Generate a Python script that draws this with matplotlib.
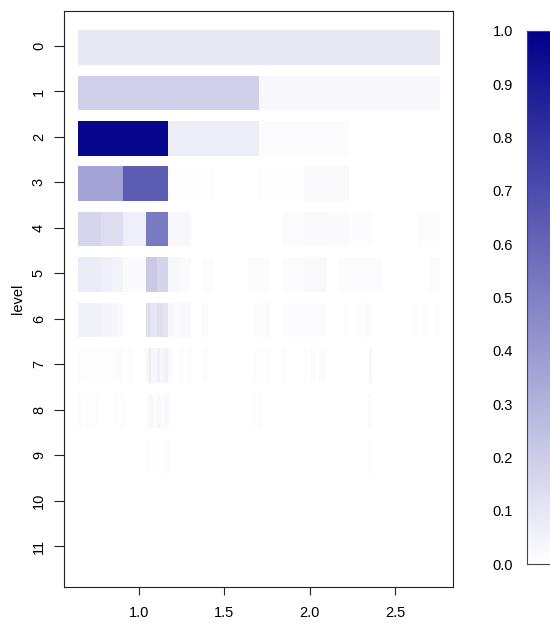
import matplotlib
matplotlib.use("Agg")
import matplotlib.pyplot as plt
import numpy as np
from matplotlib.colors import LinearSegmentedColormap, Normalize
from matplotlib.cm import ScalarMappable

plt.rcParams["font.family"] = ["Liberation Sans", "DejaVu Sans"]
plt.rcParams["font.size"] = 10.5

# Horizontal extent of the data and the resolution levels
X_MIN, X_MAX = 0.642, 2.764
LEVELS = list(range(12))

# Non-zero cells per level: (first_bin, last_bin, value); level L has 2**L bins
level0 = [(0, 0, 0.09)]
level1 = [(0, 0, 0.185), (1, 1, 0.028)]
level2 = [(0, 0, 0.97), (1, 1, 0.07), (2, 2, 0.012)]
level3 = [(0, 0, 0.36), (1, 1, 0.64), (2, 2, 0.01), (4, 4, 0.01), (5, 5, 0.025)]
level4 = [(0, 0, 0.165), (1, 1, 0.13), (2, 2, 0.065), (3, 3, 0.52), (4, 4, 0.03),
          (9, 9, 0.018), (10, 10, 0.025), (11, 11, 0.02), (12, 12, 0.015),
          (15, 15, 0.015)]
level5 = [(0, 1, 0.08), (2, 2, 0.065), (3, 3, 0.05), (4, 5, 0.02), (6, 6, 0.21),
          (7, 7, 0.17), (8, 8, 0.03), (9, 9, 0.02), (11, 11, 0.015), (15, 16, 0.015),
          (18, 19, 0.015), (20, 21, 0.025), (23, 26, 0.012), (31, 31, 0.015)]
level6 = [(0, 3, 0.055), (4, 5, 0.045), (6, 6, 0.035), (7, 7, 0.025), (12, 12, 0.13),
          (13, 13, 0.10), (14, 14, 0.13), (15, 15, 0.11), (16, 16, 0.03), (17, 17, 0.02),
          (18, 18, 0.03), (19, 19, 0.02), (22, 22, 0.02), (31, 32, 0.012),
          (33, 33, 0.025), (36, 43, 0.015), (47, 47, 0.012), (49, 50, 0.015),
          (51, 51, 0.02), (59, 59, 0.015), (61, 61, 0.015), (63, 63, 0.015)]
level7 = [(0, 0, 0.015), (1, 1, 0.008), (2, 12, 0.01), (13, 15, 0.012), (18, 18, 0.012),
          (24, 24, 0.03), (25, 25, 0.08), (26, 27, 0.03), (28, 28, 0.06), (29, 29, 0.03),
          (30, 30, 0.05), (31, 31, 0.06), (32, 32, 0.02), (33, 33, 0.01), (36, 36, 0.012),
          (39, 39, 0.012), (44, 45, 0.015), (62, 67, 0.01), (72, 73, 0.012),
          (80, 80, 0.015), (82, 83, 0.015), (85, 87, 0.015), (103, 103, 0.035),
          (119, 119, 0.015)]
level8 = [(0, 2, 0.012), (5, 14, 0.008), (26, 28, 0.01), (30, 32, 0.01), (48, 49, 0.015),
          (50, 52, 0.035), (53, 55, 0.015), (56, 58, 0.03), (59, 60, 0.015),
          (61, 63, 0.025), (64, 64, 0.015), (124, 124, 0.015), (125, 126, 0.005),
          (127, 129, 0.015), (205, 207, 0.02)]
level9 = [(96, 115, 0.01), (121, 129, 0.012), (410, 416, 0.012)]
level10 = [(201, 204, 0.012)]
level11 = []
cells = [level0, level1, level2, level3, level4, level5,
         level6, level7, level8, level9, level10, level11]

cmap = LinearSegmentedColormap.from_list("white_navy", ["#FFFFFF", "#00008B"])
norm = Normalize(vmin=0.0, vmax=1.0)

fig = plt.figure(figsize=(5.5, 6.25), dpi=100)
ax = fig.add_axes([64 / 550, (625 - 587) / 625, 389 / 550, 576 / 625])

half_h = 0.38
for lev, runs in zip(LEVELS, cells):
    nbins = 2 ** lev
    vals = np.zeros(nbins)
    for first, last, v in runs:
        vals[first:last + 1] = v
    xedges = np.linspace(X_MIN, X_MAX, nbins + 1)
    yedges = np.array([lev - half_h + 0.03, lev + half_h + 0.03])
    ax.pcolormesh(xedges, yedges, vals[np.newaxis, :], cmap=cmap, norm=norm,
                  shading="flat", edgecolors="none", antialiased=False)

ax.set_xlim(0.5606, 2.84)
ax.set_ylim(11.9, -0.77)
ax.set_xticks([1.0, 1.5, 2.0, 2.5])
ax.set_xticklabels(["1.0", "1.5", "2.0", "2.5"])
ax.set_yticks(LEVELS)
ax.set_yticklabels([str(v) for v in LEVELS], rotation=90, va="center")
ax.tick_params(axis="x", length=6, width=0.8, pad=8, color="#222222")
ax.tick_params(axis="y", length=7, width=0.8, pad=6, color="#222222")
for s in ax.spines.values():
    s.set_linewidth(0.8)
    s.set_color("#222222")

fig.text(18 / 550, 1 - 299 / 625, "level", rotation=90, ha="center", va="center",
         fontsize=10.5)

# Colour key
cax = fig.add_axes([527 / 550, (625 - 564) / 625, 0.1, 533 / 625])
cb = fig.colorbar(ScalarMappable(norm=norm, cmap=cmap), cax=cax)
cb.set_ticks(np.round(np.arange(0, 1.01, 0.1), 1))
cb.set_ticklabels([f"{t:.1f}" for t in np.arange(0, 1.01, 0.1)])
cax.yaxis.set_ticks_position("left")
cax.tick_params(axis="y", length=0, pad=10)
cb.outline.set_edgecolor("#444444")
cb.outline.set_linewidth(0.8)

fig.savefig("out.png", dpi=100, facecolor="white")
